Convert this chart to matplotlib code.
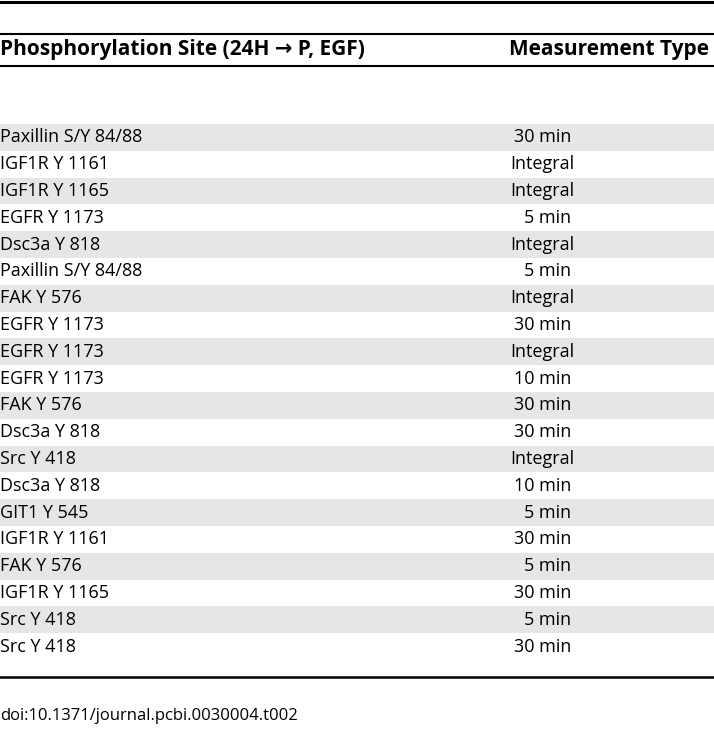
import matplotlib
matplotlib.use('Agg')
import matplotlib.pyplot as plt

sites = ['Paxillin S/Y 84/88', 'IGF1R Y 1161', 'IGF1R Y 1165', 'EGFR Y 1173',
         'Dsc3a Y 818', 'Paxillin S/Y 84/88', 'FAK Y 576', 'EGFR Y 1173',
         'EGFR Y 1173', 'EGFR Y 1173', 'FAK Y 576', 'Dsc3a Y 818',
         'Src Y 418', 'Dsc3a Y 818', 'GIT1 Y 545', 'IGF1R Y 1161',
         'FAK Y 576', 'IGF1R Y 1165', 'Src Y 418', 'Src Y 418']
types = ['30 min', 'Integral', 'Integral', '5 min', 'Integral', '5 min',
         'Integral', '30 min', 'Integral', '10 min', '30 min', '30 min',
         'Integral', '10 min', '5 min', '30 min', '5 min', '30 min',
         '5 min', '30 min']
headers = ['Phosphorylation Site (24H \u2192 P, EGF)', 'Measurement Type']
doi = 'doi:10.1371/journal.pcbi.0030004.t002'

plt.rcParams['font.family'] = ['Open Sans', 'DejaVu Sans']

W, H = 714, 731
fig = plt.figure(figsize=(W / 100, H / 100), dpi=100)
ax = fig.add_axes([0, 0, 1, 1])
ax.set_xlim(0, W)
ax.set_ylim(H, 0)
ax.axis('off')

fs = 13
y0 = 137.4
step = 26.8

# rules
ax.axhline(1.5, color='black', lw=2.2)
ax.axhline(34, color='black', lw=1.5)
ax.axhline(66, color='black', lw=1.5)
ax.axhline(677, color='black', lw=1.8)

ax.text(0, 50, headers[0], fontsize=15, fontweight='bold', va='center', ha='left')
ax.text(509, 50, headers[1], fontsize=15, fontweight='bold', va='center', ha='left')

for i, (s, t) in enumerate(zip(sites, types)):
    y = y0 + i * step
    if i % 2 == 0:
        ax.axhspan(y - step / 2, y + step / 2, color='#e6e6e6', lw=0, zorder=0)
    ax.text(0, y, s, fontsize=fs, va='center', ha='left')
    if t.endswith('min'):
        ax.text(571, y, t, fontsize=fs, va='center', ha='right')
    else:
        ax.text(510, y, t, fontsize=fs, va='center', ha='left')

ax.text(0, 716, doi, fontsize=12, va='center', ha='left')

fig.savefig('out.png', dpi=100)
